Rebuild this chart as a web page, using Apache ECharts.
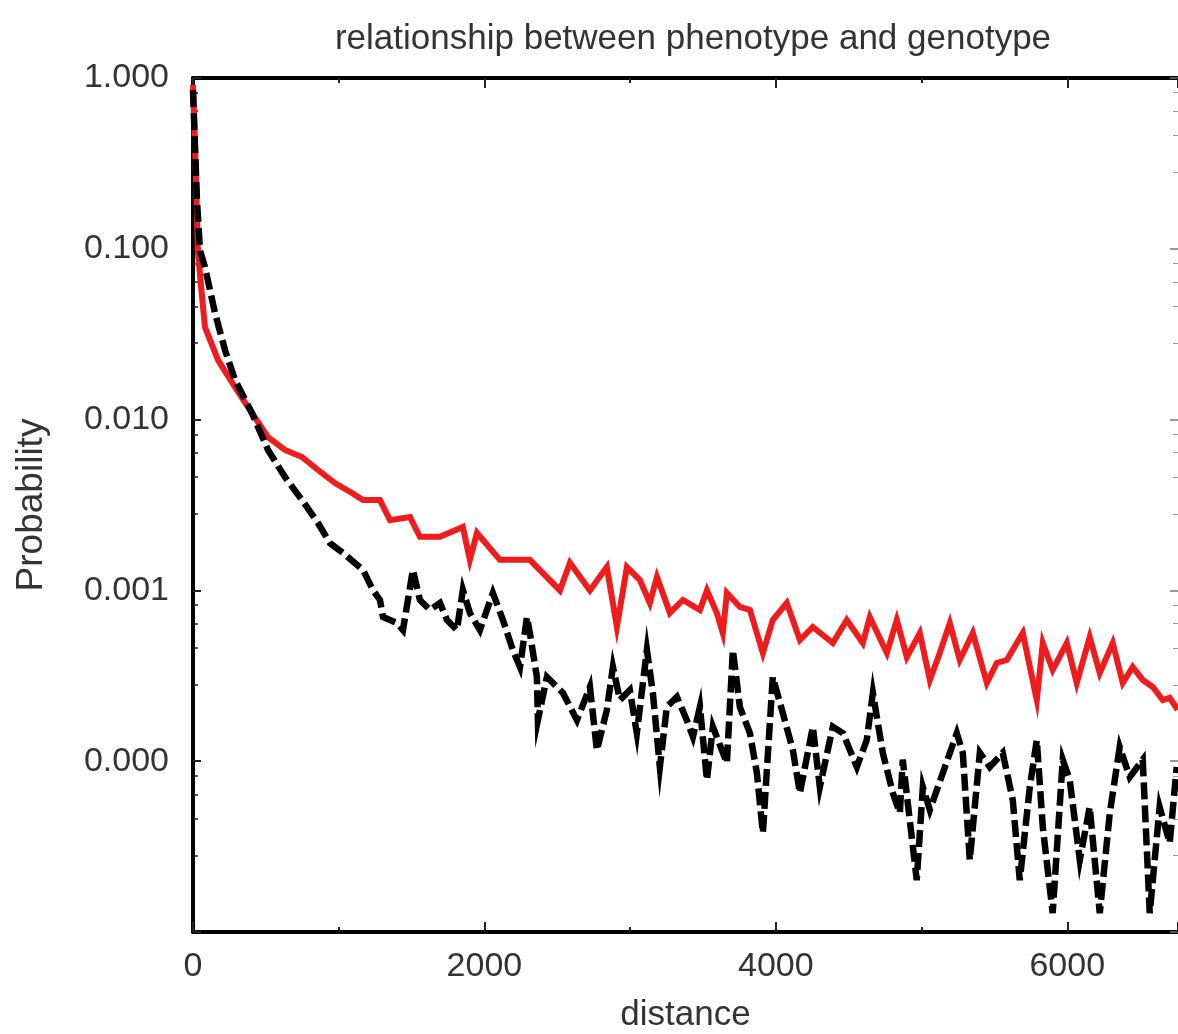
<!DOCTYPE html>
<html>
<head>
<meta charset="utf-8">
<script src="https://cdn.jsdelivr.net/npm/echarts@6/dist/echarts.min.js"></script>
<style>
html,body{margin:0;padding:0;background:#fff;}
#chart{width:1178px;height:1034px;}
</style>
</head>
<body>
<div id="chart"></div>
<script>
// distance values (x) and probabilities (y)
const redX = [0,21,34,82,172,288,405,515,631,748,858,974,1091,1166,1283,1352,1489,1557,1695,1852,1900,1949,2106,2312,2518,2587,2724,2840,2909,2978,3067,3135,3184,3273,3362,3479,3527,3595,3636,3664,3753,3822,3911,3979,4075,4165,4254,4391,4487,4597,4645,4762,4830,4899,4988,5057,5125,5194,5262,5352,5448,5516,5585,5695,5791,5832,5900,5997,6065,6154,6223,6312,6381,6449,6518,6587,6655,6703,6758];
const redY = [0.91,0.253,0.0945,0.0348,0.0223,0.0155,0.0109,0.0079,0.00664,0.00604,0.00507,0.00425,0.00372,0.00338,0.00338,0.00258,0.00269,0.00206,0.00206,0.00235,0.00151,0.00217,0.00151,0.00151,0.00100,0.00145,0.00100,0.00137,0.000611,0.00137,0.00115,0.000844,0.00120,0.000738,0.000879,0.000768,0.00100,0.000738,0.000563,0.000966,0.000800,0.000768,0.000430,0.000671,0.000844,0.000512,0.000611,0.000492,0.000671,0.000492,0.000698,0.000430,0.000671,0.000407,0.000563,0.000299,0.000430,0.000644,0.000391,0.000563,0.000287,0.000376,0.000391,0.000563,0.000228,0.000492,0.000342,0.000492,0.000287,0.000533,0.000328,0.000492,0.000287,0.000356,0.000299,0.000272,0.000228,0.000235,0.000200];

const blackX = [0,27,48,82,151,220,288,405,515,631,748,858,940,1029,1166,1235,1283,1304,1400,1441,1509,1557,1626,1695,1743,1811,1852,1900,1969,2058,2127,2195,2244,2292,2312,2360,2367,2429,2539,2635,2724,2772,2840,2882,2930,2998,3046,3115,3156,3204,3252,3321,3389,3431,3479,3527,3568,3664,3705,3753,3822,3870,3911,3979,4048,4117,4165,4254,4302,4391,4460,4556,4624,4666,4734,4803,4851,4871,4967,5009,5057,5146,5242,5283,5331,5400,5468,5557,5626,5674,5743,5791,5832,5900,5969,6017,6086,6154,6223,6292,6360,6429,6518,6566,6634,6703,6751];
const blackY = [0.85,0.193,0.098,0.0782,0.0421,0.0255,0.0171,0.0109,0.00664,0.00461,0.00338,0.00248,0.00189,0.00166,0.00132,0.001005,0.000879,0.000698,0.000644,0.000586,0.00132,0.000879,0.000768,0.000844,0.000671,0.000586,0.001005,0.000738,0.000586,0.000966,0.000671,0.000448,0.000356,0.000698,0.000563,0.000311,0.000174,0.000311,0.000251,0.000174,0.000272,0.000116,0.000199,0.000356,0.000228,0.000261,0.000146,0.000448,0.000251,0.0000925,0.000208,0.000238,0.000174,0.000139,0.000208,0.0000776,0.000159,0.0000975,0.000448,0.000208,0.000146,0.0000853,0.000038,0.000311,0.000191,0.000116,0.0000651,0.000159,0.0000706,0.000159,0.000146,0.0000925,0.000133,0.000251,0.000112,0.0000651,0.0000498,0.000102,0.0000201,0.0000706,0.0000518,0.0000853,0.000146,0.000112,0.0000264,0.000112,0.0000925,0.000112,0.0000593,0.0000201,0.0000706,0.000133,0.0000412,0.0000129,0.000102,0.0000776,0.0000264,0.0000539,0.0000129,0.0000498,0.000121,0.0000807,0.000102,0.0000129,0.0000539,0.0000332,0.0000925];

const xTicks = {min: 0, max: 6760, interval: 2000};
const yRange = {min: 0.00001, max: 1};

const FONT = '"Liberation Sans", Arial, sans-serif';
const TXT = '#333';

const chart = echarts.init(document.getElementById('chart'), null, {renderer: 'canvas'});

const axisLineStyle = {show: true, onZero: false, lineStyle: {color: '#000', width: 4}};
const tickStyle = {show: true, inside: true, length: 10, lineStyle: {color: '#222', width: 2}};

chart.setOption({
  animation: false,
  backgroundColor: '#fff',
  title: {
    text: 'relationship between phenotype and genotype',
    left: 688,
    top: 17,
    textAlign: 'center',
    textStyle: {fontFamily: FONT, fontSize: 35, fontWeight: 'normal', color: TXT}
  },
  grid: {left: 193, top: 78, width: 985, bottom: 102, containLabel: false, outerBoundsMode: 'none'},
  xAxis: [{
    type: 'value', position: 'bottom',
    min: xTicks.min, max: xTicks.max, interval: xTicks.interval,
    axisLine: axisLineStyle,
    axisTick: tickStyle,
    minorTick: {show: true, splitNumber: 2, length: 5, lineStyle: {color: '#222', width: 2}},
    splitLine: {show: false},
    axisLabel: {margin: 18, fontSize: 34, color: TXT, fontFamily: FONT, showMaxLabel: false,
      formatter: v => String(v)},
    name: 'distance', nameLocation: 'middle', nameGap: 66,
    nameTextStyle: {fontSize: 35, color: TXT, fontFamily: FONT}
  }, {
    type: 'value', position: 'top',
    min: xTicks.min, max: xTicks.max, interval: xTicks.interval,
    axisLine: axisLineStyle,
    axisTick: tickStyle,
    minorTick: {show: true, splitNumber: 2, length: 5, lineStyle: {color: '#222', width: 2}},
    splitLine: {show: false},
    axisLabel: {show: false}
  }],
  yAxis: [{
    type: 'log', logBase: 10, position: 'left',
    min: yRange.min, max: yRange.max,
    axisLine: axisLineStyle,
    axisTick: {show: true, inside: true, length: 8, lineStyle: {color: '#222', width: 2}},
    minorTick: {show: true, splitNumber: 5, length: 5, lineStyle: {color: '#222', width: 1.5}},
    splitLine: {show: false},
    axisLabel: {
      margin: 24, fontSize: 34, color: TXT, fontFamily: FONT, showMinLabel: false,
      formatter: v => Number(v).toFixed(3)
    },
    name: 'Probability', nameLocation: 'middle', nameGap: 143, nameRotate: 90,
    nameTextStyle: {fontSize: 37, color: TXT, fontFamily: FONT}
  }, {
    type: 'log', logBase: 10, position: 'right',
    min: yRange.min, max: yRange.max,
    axisLine: {show: true, onZero: false, lineStyle: {color: '#bbb', width: 1}},
    axisTick: {show: true, inside: true, length: 8, lineStyle: {color: '#777', width: 1.5}},
    minorTick: {show: true, splitNumber: 5, length: 5, lineStyle: {color: '#999', width: 1}},
    splitLine: {show: false},
    axisLabel: {show: false}
  }],
  series: [{
    type: 'line', xAxisIndex: 0, yAxisIndex: 0,
    data: redX.map((x, i) => [x, redY[i]]),
    showSymbol: false, symbol: 'none',
    lineStyle: {color: '#ee1c1c', width: 6, join: 'miter'},
    z: 2
  }, {
    type: 'line', xAxisIndex: 0, yAxisIndex: 0,
    data: blackX.map((x, i) => [x, blackY[i]]),
    showSymbol: false, symbol: 'none',
    lineStyle: {color: '#000', width: 6.5, type: [17, 6], join: 'miter'},
    z: 3
  }]
});
</script>
</body>
</html>
